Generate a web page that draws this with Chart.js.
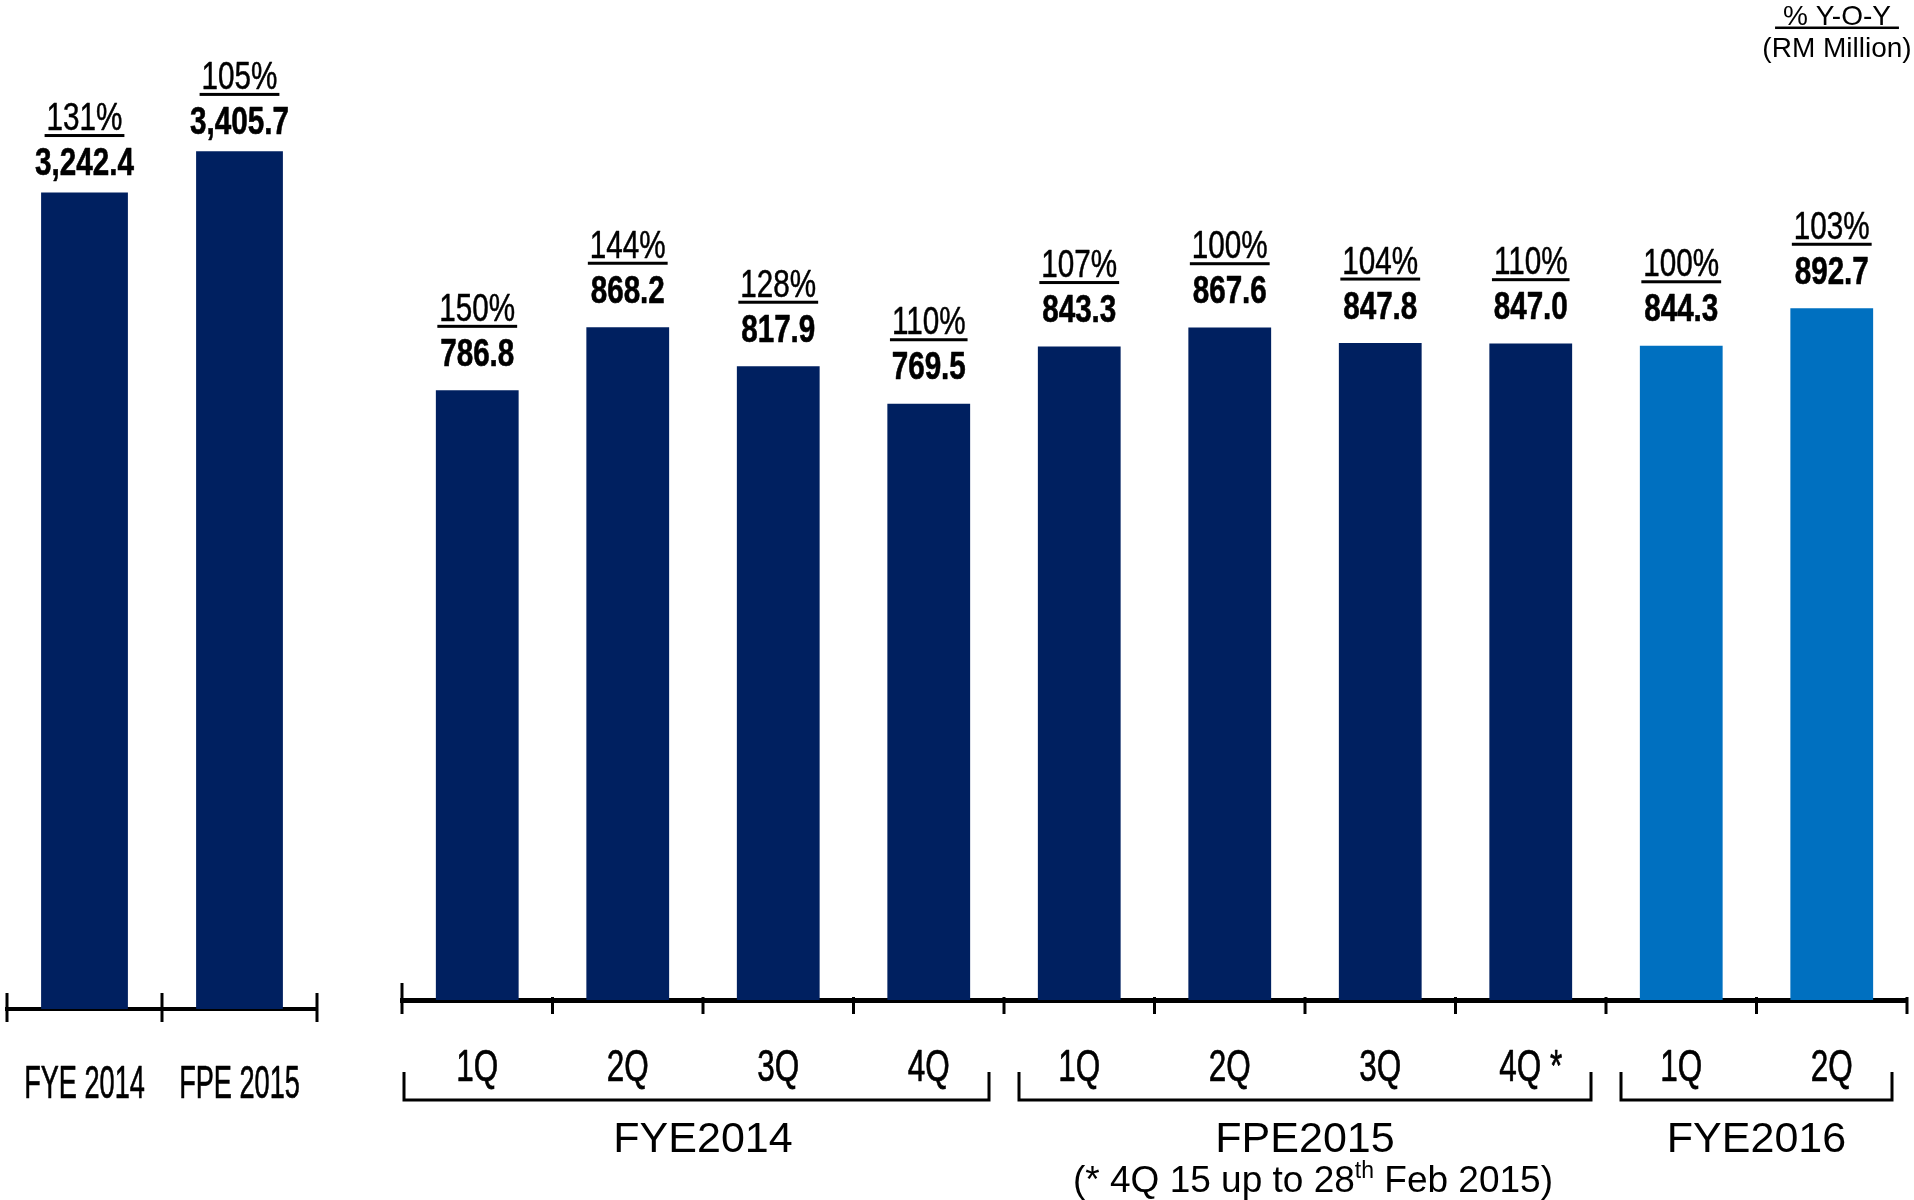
<!DOCTYPE html>
<html>
<head>
<meta charset="utf-8">
<title>Revenue (RM Million)</title>
<script src="https://cdn.jsdelivr.net/npm/chart.js@4.4.1/dist/chart.umd.min.js"></script>
<style>
  html, body { margin: 0; padding: 0; background: #fff; }
  #wrap { position: relative; width: 1914px; height: 1200px; overflow: hidden; }
  canvas { position: absolute; top: 0; }
  #annual { left: 0; }
  #quarterly { left: 390px; }
</style>
</head>
<body>
<div id="wrap">
  <canvas id="annual" width="330" height="1200"></canvas>
  <canvas id="quarterly" width="1524" height="1200"></canvas>
</div>
<script>
// annual totals
const annualLabels = ['FYE 2014', 'FPE 2015'];
const annualRevenue = [3242.4, 3405.7];
const annualYoY = [131, 105];

// quarterly
const quarterLabels = ['1Q', '2Q', '3Q', '4Q', '1Q', '2Q', '3Q', '4Q *', '1Q', '2Q'];
const quarterRevenue = [786.8, 868.2, 817.9, 769.5, 843.3, 867.6, 847.8, 847.0, 844.3, 892.7];
const quarterYoY = [150, 144, 128, 110, 107, 100, 104, 110, 100, 103];

const periodNames = ['FYE2014', 'FPE2015', 'FYE2016'];
const periodSizes = [4, 4, 2];
const footnote = ['(* 4Q 15 up to 28', 'th', ' Feb 2015)'];

const NAVY = '#002060';
const BLUE = '#0070C0';
const FONT = '"Liberation Sans", Arial, Helvetica, sans-serif';

const fmt = v => v.toLocaleString('en-US', { minimumFractionDigits: 1, maximumFractionDigits: 1 });

// draws text with its cap height centred on capMid; squeeze narrows it like Arial Narrow
function text(ctx, str, x, capMid, size, opts = {}) {
  const { bold = false, squeeze = 1, align = 'center', weight = 0 } = opts;
  ctx.save();
  ctx.font = (bold ? 'bold ' : '') + size + 'px ' + FONT;
  ctx.fillStyle = '#000';
  ctx.strokeStyle = '#000';
  ctx.textAlign = align;
  ctx.textBaseline = 'alphabetic';
  const base = capMid + size * 0.358;
  ctx.translate(x, base);
  ctx.scale(squeeze, 1);
  ctx.fillText(str, 0, 0);
  if (weight) {
    ctx.lineWidth = weight;
    ctx.lineJoin = 'round';
    ctx.strokeText(str, 0, 0);
  }
  const w = ctx.measureText(str).width * squeeze;
  ctx.restore();
  return { w, base };
}

function catStep(chart) {
  const x = chart.scales.x;
  return (x.right - x.left) / chart.data.labels.length;
}

function barLabels(values, yoy, gap) {
  return {
    id: 'barLabels',
    afterDatasetsDraw(chart) {
      const ctx = chart.ctx;
      chart.getDatasetMeta(0).data.forEach((bar, i) => {
        const valMid = bar.y - gap;
        text(ctx, fmt(values[i]), bar.x, valMid, 38, { bold: true, squeeze: 0.78, weight: 0.6 });
        const t = text(ctx, yoy[i] + '%', bar.x, valMid - 45, 38, { squeeze: 0.78, weight: 0.5 });
        ctx.fillStyle = '#000';
        ctx.fillRect(bar.x - t.w / 2 - 2, t.base + 4, t.w + 4, 3);
      });
    }
  };
}

function axisTicks(firstUp, up, down) {
  return {
    id: 'axisTicks',
    afterDraw(chart) {
      const x = chart.scales.x, ctx = chart.ctx;
      const n = chart.data.labels.length;
      const step = catStep(chart);
      const y0 = chart.chartArea.bottom;
      ctx.save();
      ctx.strokeStyle = '#000';
      ctx.lineWidth = 3;
      for (let i = 0; i <= n; i++) {
        const px = x.getPixelForValue(0) - step / 2 + i * step;
        ctx.beginPath();
        ctx.moveTo(px, y0 - (i === 0 ? firstUp : up));
        ctx.lineTo(px, y0 + down);
        ctx.stroke();
      }
      ctx.restore();
    }
  };
}

function catLabels(size, squeeze, drop) {
  return {
    id: 'catLabels',
    afterDraw(chart) {
      const x = chart.scales.x, y0 = chart.chartArea.bottom;
      chart.data.labels.forEach((lab, i) => {
        text(chart.ctx, lab, x.getPixelForValue(i), y0 + drop, size, { squeeze, weight: 0.7 });
      });
    }
  };
}

const periodBrackets = {
  id: 'periodBrackets',
  afterDraw(chart) {
    const ctx = chart.ctx, x = chart.scales.x, y0 = chart.chartArea.bottom;
    const step = catStep(chart);
    let start = 0;
    periodNames.forEach((name, g) => {
      const end = start + periodSizes[g] - 1;
      const l = x.getPixelForValue(start) - step / 2 + (start === 0 ? 2 : 15);
      const r = x.getPixelForValue(end) + step / 2 - 15;
      ctx.save();
      ctx.strokeStyle = '#000';
      ctx.lineWidth = 3;
      ctx.beginPath();
      ctx.moveTo(l, y0 + 72);
      ctx.lineTo(l, y0 + 100);
      ctx.lineTo(r, y0 + 100);
      ctx.lineTo(r, y0 + 72);
      ctx.stroke();
      ctx.restore();
      const mid = (x.getPixelForValue(start) + x.getPixelForValue(end)) / 2;
      text(ctx, name, mid, y0 + 137, 43);
      if (g === 1) {
        // footnote under FPE2015, with a superscript "th"
        ctx.save();
        ctx.font = '37px ' + FONT;
        const w0 = ctx.measureText(footnote[0]).width;
        const w2 = ctx.measureText(footnote[2]).width;
        ctx.font = '23px ' + FONT;
        const w1 = ctx.measureText(footnote[1]).width;
        ctx.restore();
        const left = mid + 8 - (w0 + w1 + w2) / 2;
        const cap = y0 + 179;
        text(ctx, footnote[0], left, cap, 37, { align: 'left' });
        text(ctx, footnote[1], left + w0, cap - 9, 23, { align: 'left' });
        text(ctx, footnote[2], left + w0 + w1, cap, 37, { align: 'left' });
      }
      start = end + 1;
    });

    // unit note, top right
    const cx = chart.width - 77;
    const t = text(ctx, '% Y-O-Y', cx, 15, 28);
    ctx.fillStyle = '#000';
    ctx.fillRect(cx - t.w / 2 - 8, t.base + 1.5, t.w + 16, 2.5);
    text(ctx, '(RM Million)', cx, 47, 28);
  }
};

const quarterColors = quarterLabels.map((_, i) => {
  const lastStart = periodSizes.slice(0, -1).reduce((a, b) => a + b, 0);
  return i >= lastStart ? BLUE : NAVY;
});

const baseOpts = (pad, ymax, border) => ({
  responsive: false,
  animation: false,
  layout: { padding: pad },
  plugins: { legend: { display: false }, tooltip: { enabled: false } },
  scales: {
    x: {
      z: 1,
      grid: { display: false },
      ticks: { display: false },
      border: { display: true, color: '#000', width: border },
      afterFit: s => { s.height = 0; }
    },
    y: { display: false, min: 0, max: ymax }
  }
});

new Chart(document.getElementById('annual'), {
  type: 'bar',
  data: {
    labels: annualLabels,
    datasets: [{ data: annualRevenue, backgroundColor: NAVY, barPercentage: 0.56, categoryPercentage: 1 }]
  },
  options: baseOpts({ left: 7, right: 13, top: 52, bottom: 191 }, 3800, 4),
  plugins: [barLabels(annualRevenue, annualYoY, 31), axisTicks(16, 16, 13), catLabels(46, 0.59, 73)]
});

new Chart(document.getElementById('quarterly'), {
  type: 'bar',
  data: {
    labels: quarterLabels,
    datasets: [{ data: quarterRevenue, backgroundColor: quarterColors, barPercentage: 0.55, categoryPercentage: 1 }]
  },
  options: baseOpts({ left: 12, right: 7, top: 70, bottom: 200 }, 1200, 5),
  plugins: [barLabels(quarterRevenue, quarterYoY, 38), axisTicks(17, 3, 14), catLabels(45, 0.70, 65), periodBrackets]
});
</script>
</body>
</html>
